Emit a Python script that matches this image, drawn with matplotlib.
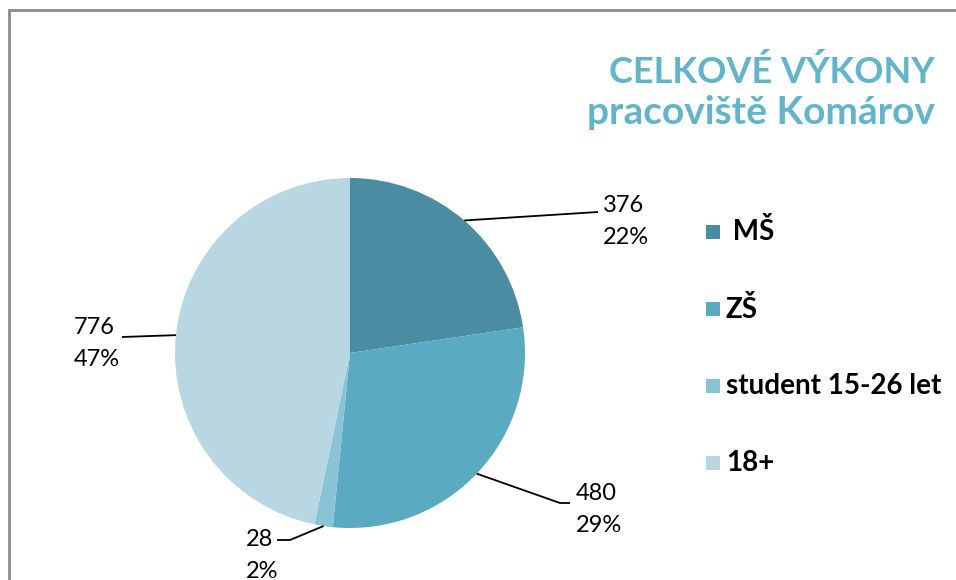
import numpy as np
import matplotlib.pyplot as plt
from matplotlib.patches import Rectangle

# data
categories = [" MŠ", "ZŠ", "student 15-26 let", "18+"]
values = [376, 480, 28, 776]
percents = ["22%", "29%", "2%", "47%"]
colors = ["#4a8da2", "#5aaac1", "#8ac3d5", "#b8d7e2"]

plt.rcParams['font.family'] = ['Lato', 'DejaVu Sans']

W, H = 956, 580
fig = plt.figure(figsize=(W / 100, H / 100), dpi=100)

# pie centred at (350, 353) px with radius 175 px
cx, cy, r = 350, 353, 175
ax = fig.add_axes([(cx - r) / W, (H - cy - r) / H, 2 * r / W, 2 * r / H])
wedges, _ = ax.pie(values, colors=colors, startangle=90, counterclock=False,
                   radius=1, wedgeprops=dict(linewidth=0))
ax.set_xlim(-1, 1)
ax.set_ylim(-1, 1)
ax.set_aspect('equal')
ax.axis('off')

def px(x, y):
    # pixel position -> pie data coords
    return (x - cx) / r, (cy - y) / r

# label text positions (left edge, first line centre) and leader elbows, in px
label_pos = [(603, 205), (576, 493), (246, 540), (74, 327)]
elbows = [[(598, 212)], [(560, 503), (570, 503)], [(290, 540), (277, 540)], [(122, 337)]]

total = sum(values)
start = 90.0
for i, v in enumerate(values):
    sweep = 360.0 * v / total
    mid = np.deg2rad(start - sweep / 2)
    start -= sweep
    pts = [(np.cos(mid), np.sin(mid))] + [px(*e) for e in elbows[i]]
    xs, ys = zip(*pts)
    ax.plot(xs, ys, color="black", lw=1.3, clip_on=False, solid_capstyle='butt')
    tx, ty = label_pos[i]
    fig.text(tx / W, 1 - ty / H, f"{v}", fontsize=17, ha='left', va='center')
    fig.text(tx / W, 1 - (ty + 32) / H, percents[i], fontsize=17, ha='left', va='center')

# title
title_color = "#62b4cb"
fig.text(935 / W, 1 - 72 / H, "CELKOVÉ VÝKONY", fontsize=26, fontweight='bold',
         color=title_color, ha='right', va='center')
fig.text(935 / W, 1 - 113 / H, "pracoviště Komárov", fontsize=28, fontweight='bold',
         color=title_color, ha='right', va='center')

# legend (drawn by hand for exact placement)
for i, (lab, col) in enumerate(zip(categories, colors)):
    yc = 232 + 77 * i
    fig.patches.append(Rectangle((706 / W, 1 - (yc + 7) / H), 14 / W, 14 / H,
                                 transform=fig.transFigure, facecolor=col, edgecolor='none'))
    fig.text(726 / W, 1 - yc / H, lab, fontsize=20, fontweight='bold', ha='left', va='center')

# outer frame
fig.patches.append(Rectangle((9 / W, -0.1), 1.2, 1 - 10 / H + 0.1, transform=fig.transFigure,
                             fill=False, edgecolor="#8c8c8c", lw=2, clip_on=False))

fig.savefig("out.png", dpi=100)
